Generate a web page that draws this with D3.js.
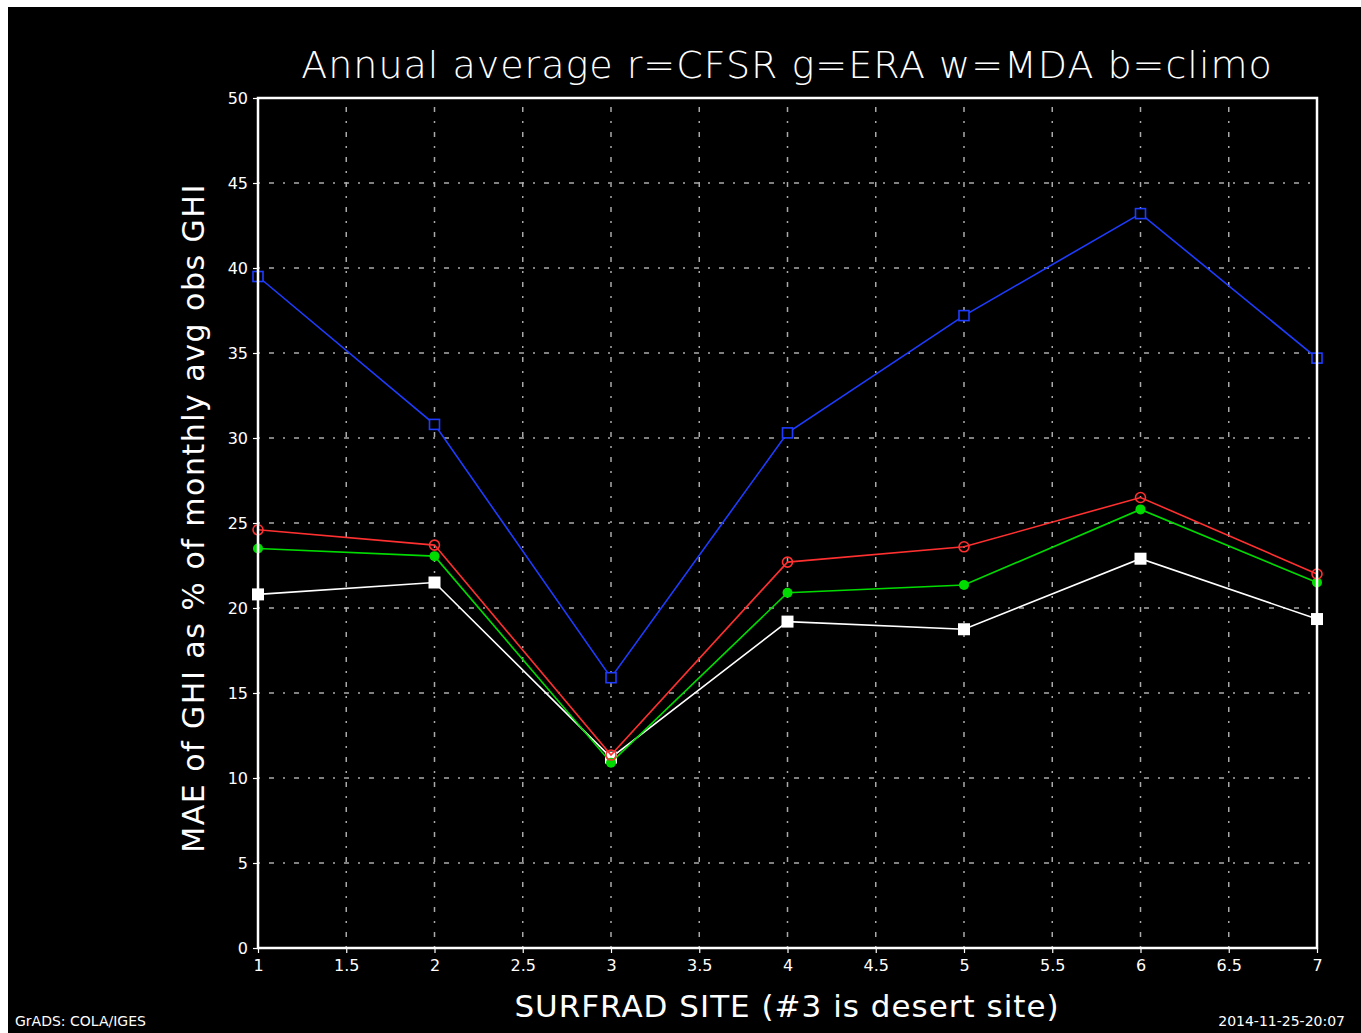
<!DOCTYPE html>
<html>
<head>
<meta charset="utf-8">
<script src="https://cdn.jsdelivr.net/npm/d3@7"></script>
<style>
  html, body { margin: 0; padding: 0; background: #fff; }
  svg { display: block; }
  text { font-family: "DejaVu Sans", sans-serif; fill: #fff; }
</style>
</head>
<body>
<div id="chart"></div>
<script>
// SURFRAD sites 1..7
const sites = [1, 2, 3, 4, 5, 6, 7];
const cfsr  = [24.6, 23.7, 11.35, 22.7, 23.6, 26.5, 22.0];
const era   = [23.5, 23.05, 10.9, 20.9, 21.35, 25.8, 21.5];
const mda   = [20.8, 21.5, 11.2, 19.2, 18.75, 22.9, 19.35];
const climo = [39.5, 30.8, 15.9, 30.3, 37.2, 43.2, 34.7];
const xTicks = [1, 1.5, 2, 2.5, 3, 3.5, 4, 4.5, 5, 5.5, 6, 6.5, 7];
const yTicks = [0, 5, 10, 15, 20, 25, 30, 35, 40, 45, 50];

const width = 1361, height = 1033;

let svg = d3.select("#chart").append("svg")
    .attr("width", width)
    .attr("height", height);

// black page, white strip top/left like the original screenshot
svg.append("rect")
    .attr("x", 8).attr("y", 7)
    .attr("width", width - 8).attr("height", height - 7)
    .attr("fill", "#000");

let x = d3.scaleLinear().domain([1, 7]).range([258, 1317]);
let y = d3.scaleLinear().domain([0, 50]).range([948, 98]);

// grid
let grid = svg.append("g")
    .attr("stroke", "#aaa")
    .attr("stroke-width", 1.5)
    .attr("stroke-dasharray", "2,9,5,9");

grid.selectAll(".vgrid")
    .data(xTicks.slice(1, -1))
    .enter().append("line")
    .attr("x1", d => x(d)).attr("x2", d => x(d))
    .attr("y1", y(0)).attr("y2", y(50));

grid.selectAll(".hgrid")
    .data(yTicks.slice(1, -1))
    .enter().append("line")
    .attr("x1", x(1)).attr("x2", x(7))
    .attr("y1", d => y(d)).attr("y2", d => y(d));

// series
let series = [
    { name: "climo", values: climo, color: "#1e3cff", marker: "openSquare" },
    { name: "mda", values: mda, color: "#ffffff", marker: "square" },
    { name: "era", values: era, color: "#00dc00", marker: "dot" },
    { name: "cfsr", values: cfsr, color: "#ff3030", marker: "openCircle" }
];

let line = d3.line()
    .x((d, i) => x(sites[i]))
    .y(d => y(d));

series.forEach(s => {
    let g = svg.append("g").attr("class", "series-" + s.name);
    g.append("path")
        .attr("d", line(s.values))
        .attr("fill", "none")
        .attr("stroke", s.color)
        .attr("stroke-width", 1.6);

    let pts = g.selectAll(".pt")
        .data(s.values)
        .enter();

    if (s.marker === "openSquare") {
        pts.append("rect")
            .attr("x", (d, i) => x(sites[i]) - 5)
            .attr("y", d => y(d) - 5)
            .attr("width", 10).attr("height", 10)
            .attr("fill", "#000")
            .attr("stroke", s.color)
            .attr("stroke-width", 1.6);
    } else if (s.marker === "square") {
        pts.append("rect")
            .attr("x", (d, i) => x(sites[i]) - 6)
            .attr("y", d => y(d) - 6)
            .attr("width", 12).attr("height", 12)
            .attr("fill", s.color);
    } else if (s.marker === "dot") {
        pts.append("circle")
            .attr("cx", (d, i) => x(sites[i]))
            .attr("cy", d => y(d))
            .attr("r", 5)
            .attr("fill", s.color);
    } else {
        pts.append("circle")
            .attr("cx", (d, i) => x(sites[i]))
            .attr("cy", d => y(d))
            .attr("r", 5)
            .attr("fill", "none")
            .attr("stroke", s.color)
            .attr("stroke-width", 1.6);
    }
});

// frame
svg.append("rect")
    .attr("x", x(1)).attr("y", y(50))
    .attr("width", x(7) - x(1)).attr("height", y(0) - y(50))
    .attr("fill", "none")
    .attr("stroke", "#fff")
    .attr("stroke-width", 2.5);

// axes
let xAxis = d3.axisBottom(x)
    .tickValues(xTicks)
    .tickSize(5)
    .tickFormat(d3.format("~g"));
let yAxis = d3.axisLeft(y)
    .tickValues(yTicks)
    .tickSize(5)
    .tickFormat(d3.format("~g"));

let gx = svg.append("g")
    .attr("transform", `translate(0,${y(0)})`)
    .call(xAxis);
let gy = svg.append("g")
    .attr("transform", `translate(${x(1)},0)`)
    .call(yAxis);

[gx, gy].forEach(g => {
    g.select(".domain").remove();
    g.selectAll(".tick line").attr("stroke", "#fff").attr("stroke-width", 1.2);
    g.selectAll(".tick text")
        .attr("fill", "#fff")
        .style("font-size", "16px")
        .style("font-family", "DejaVu Sans, sans-serif");
});
gx.selectAll(".tick text").attr("dy", "0.95em");
gy.selectAll(".tick text").attr("x", -10);

// titles
svg.append("text")
    .attr("x", 787).attr("y", 78)
    .attr("text-anchor", "middle")
    .style("font-size", "38px")
    .style("font-weight", "300")
    .style("letter-spacing", "1px")
    .text("Annual average r=CFSR g=ERA w=MDA b=climo");

svg.append("text")
    .attr("transform", "translate(204,518) rotate(-90)")
    .attr("text-anchor", "middle")
    .style("font-size", "30px")
    .style("letter-spacing", "1.5px")
    .text("MAE of GHI as % of monthly avg obs GHI");

svg.append("text")
    .attr("x", 787).attr("y", 1017)
    .attr("text-anchor", "middle")
    .style("font-size", "31px")
    .style("letter-spacing", "1px")
    .text("SURFRAD SITE (#3 is desert site)");

svg.append("text")
    .attr("x", 15).attr("y", 1026)
    .style("font-size", "14px")
    .text("GrADS: COLA/IGES");

svg.append("text")
    .attr("x", 1345).attr("y", 1026)
    .attr("text-anchor", "end")
    .style("font-size", "14px")
    .text("2014-11-25-20:07");
</script>
</body>
</html>
